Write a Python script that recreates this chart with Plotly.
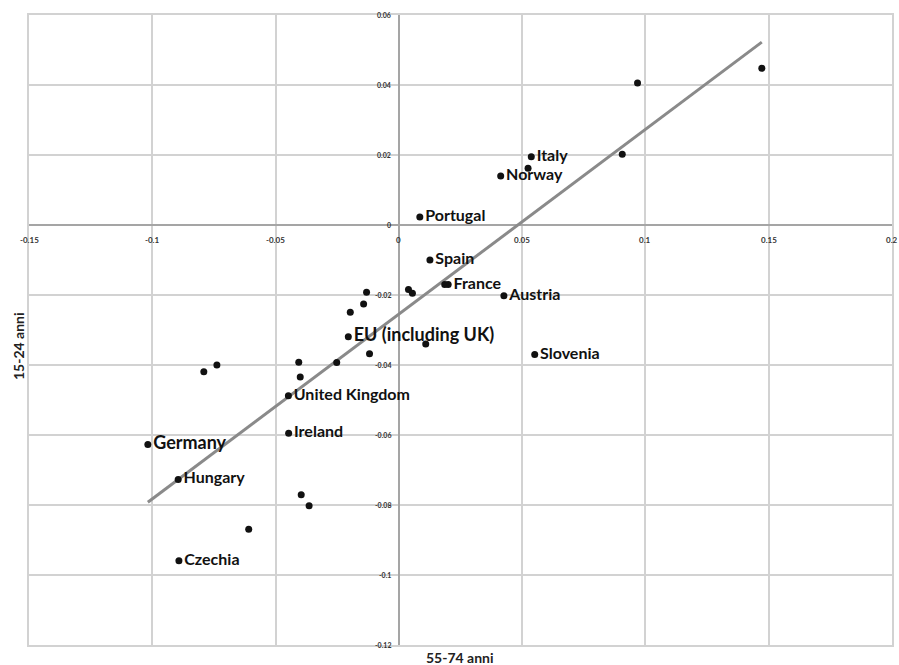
import numpy as np
import plotly.graph_objects as go

# Data (x: 55-74 anni, y: 15-24 anni)
x_vals = [0.1472, 0.0968, 0.0906, 0.0537, 0.0524, 0.0413, 0.0085, 0.0126,
          0.0200, 0.0186, 0.0039, 0.0055, 0.0426, 0.0551, -0.0131, -0.0143,
          -0.0197, -0.0205, -0.0119, 0.0109, -0.0252, -0.0406, -0.0400,
          -0.0448, -0.0447, -0.0738, -0.0791, -0.1018, -0.0895, -0.0396,
          -0.0364, -0.0609, -0.0892]
y_vals = [0.0448, 0.0406, 0.0202, 0.0195, 0.0162, 0.0140, 0.0023, -0.0100,
          -0.0170, -0.0170, -0.0184, -0.0195, -0.0202, -0.0370, -0.0192,
          -0.0226, -0.0249, -0.0319, -0.0368, -0.0340, -0.0393, -0.0392,
          -0.0434, -0.0488, -0.0595, -0.0400, -0.0419, -0.0627, -0.0727,
          -0.0771, -0.0802, -0.0869, -0.0959]
labels = ["", "", "", "Italy", "", "Norway", "Portugal", "Spain",
          "France", "", "", "", "Austria", "Slovenia", "", "",
          "", "EU (including UK)", "", "", "", "", "",
          "United Kingdom", "Ireland", "", "", "Germany", "Hungary", "",
          "", "", "Czechia"]
label_sizes = [18 if l in ("Germany", "EU (including UK)") else 16 for l in labels]

x_ticks = [-0.15, -0.1, -0.05, 0, 0.05, 0.1, 0.15, 0.2]
x_tick_text = ["-0.15", "-0.1", "-0.05", "0", "0.05", "0.1", "0.15", "0.2"]
y_ticks = [0.06, 0.04, 0.02, 0, -0.02, -0.04, -0.06, -0.08, -0.1, -0.12]
y_tick_text = ["0.06", "0.04", "0.02", "0", "-0.02", "-0.04", "-0.06", "-0.08", "-0.1", "-0.12"]

x_title = "55-74 anni"
y_title = "15-24 anni"

# Linear trend line fitted to the data
slope, intercept = np.polyfit(x_vals, y_vals, 1)
tx = np.array([min(x_vals), max(x_vals)])
ty = slope * tx + intercept

fig = go.Figure()
fig.add_trace(go.Scatter(x=tx, y=ty, mode="lines",
                         line=dict(color="#8a8a8a", width=3),
                         hoverinfo="skip", showlegend=False))
fig.add_trace(go.Scatter(x=x_vals, y=y_vals, mode="markers+text",
                         text=labels, textposition="middle right",
                         textfont=dict(family="Lato", size=label_sizes, color="#111111", weight=700),
                         marker=dict(color="#111111", size=7),
                         showlegend=False))

grid = "#d2d2d2"
fig.update_xaxes(range=[-0.15, 0.2], dtick=0.05, tick0=0, showgrid=True, gridcolor=grid,
                 gridwidth=1.5, zeroline=True, zerolinecolor="#a5a5a5", zerolinewidth=2,
                 showticklabels=False, showline=True, linecolor=grid, linewidth=1.5, mirror=True,
                 ticks="")
fig.update_yaxes(range=[-0.12, 0.06], dtick=0.02, tick0=0, showgrid=True, gridcolor=grid,
                 gridwidth=1.5, zeroline=True, zerolinecolor="#a5a5a5", zerolinewidth=2,
                 showticklabels=False, showline=True, linecolor=grid, linewidth=1.5, mirror=True,
                 ticks="")

annotations = []
for v, t in zip(x_ticks, x_tick_text):
    annotations.append(dict(x=v, y=0, xref="x", yref="y", text=t, showarrow=False,
                            yshift=-15, xanchor="center", yanchor="middle",
                            font=dict(family="Lato", size=8, color="#333333", weight=700)))
for v, t in zip(y_ticks, y_tick_text):
    annotations.append(dict(x=0, y=v, xref="x", yref="y", text=t, showarrow=False,
                            xshift=-6, xanchor="right", yanchor="middle",
                            font=dict(family="Lato", size=7, color="#333333", weight=700)))
annotations.append(dict(x=(461 - 29) / 865, y=(645 - 657) / 630, xref="paper", yref="paper",
                        text=x_title, showarrow=False, xanchor="center", yanchor="middle",
                        font=dict(family="Lato", size=14, color="#222222", weight=700)))
annotations.append(dict(x=(18 - 29) / 865, y=(645 - 346) / 630, xref="paper", yref="paper",
                        text=y_title, showarrow=False, xanchor="center", yanchor="middle",
                        textangle=-90,
                        font=dict(family="Lato", size=14, color="#222222", weight=700)))

fig.update_layout(width=899, height=665, margin=dict(l=29, r=5, t=15, b=20),
                  paper_bgcolor="white", plot_bgcolor="white",
                  annotations=annotations)

fig.write_html("out.html")
